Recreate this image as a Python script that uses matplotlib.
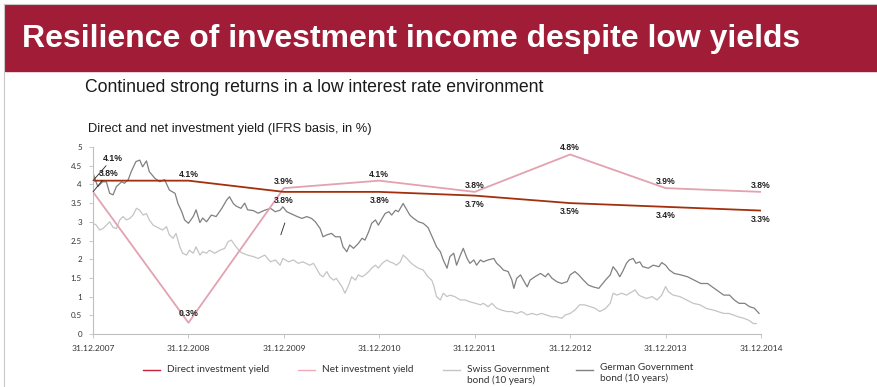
import matplotlib.pyplot as plt
from matplotlib.transforms import offset_copy

years = ['31.12.2007', '31.12.2008', '31.12.2009', '31.12.2010',
         '31.12.2011', '31.12.2012', '31.12.2013', '31.12.2014']
direct_yield = [4.1, 4.1, 3.8, 3.8, 3.7, 3.5, 3.4, 3.3]
net_yield = [3.8, 0.3, 3.9, 4.1, 3.8, 4.8, 3.9, 3.8]

# bond yields, x in years after 31.12.2007
german_t = [0.00, 0.05, 0.10, 0.14, 0.175, 0.21, 0.245, 0.30, 0.33, 0.37, 0.40, 0.45, 0.49, 0.52, 0.56,
            0.59, 0.65, 0.70, 0.75, 0.80, 0.86, 0.89, 0.93, 0.96, 1.00, 1.05, 1.08, 1.12, 1.15, 1.19,
            1.24, 1.29, 1.35, 1.40, 1.43, 1.47, 1.50, 1.55, 1.59, 1.62, 1.68, 1.73,
            1.80, 1.86, 1.91, 1.96, 1.99, 2.03, 2.08, 2.14, 2.19, 2.24, 2.29, 2.33, 2.38, 2.41, 2.45,
            2.50, 2.54, 2.59, 2.62, 2.66, 2.69, 2.73, 2.78, 2.82, 2.85, 2.89, 2.92, 2.96, 2.99, 3.03,
            3.06, 3.10, 3.13, 3.17, 3.20, 3.25, 3.29, 3.32, 3.36, 3.41, 3.46, 3.51,
            3.57, 3.60, 3.64, 3.67, 3.71, 3.74, 3.78, 3.81, 3.85, 3.88, 3.92, 3.95, 3.99, 4.02, 4.06,
            4.09, 4.14, 4.20, 4.23, 4.27, 4.30, 4.35, 4.39, 4.41, 4.44, 4.48, 4.51, 4.55, 4.58, 4.63,
            4.69, 4.74, 4.77, 4.81, 4.86, 4.91, 4.97, 5.00, 5.05, 5.09, 5.14, 5.19, 5.24, 5.30,
            5.37, 5.42, 5.45, 5.49, 5.52, 5.55, 5.59, 5.62, 5.66, 5.69, 5.73, 5.76, 5.82, 5.87, 5.93,
            5.96, 6.00, 6.04, 6.09, 6.16, 6.23, 6.30, 6.37, 6.44, 6.51, 6.56, 6.61, 6.67, 6.72, 6.77,
            6.83, 6.88, 6.93, 6.98]
german_yield = [4.30, 3.94, 4.07, 4.07, 3.76, 3.72, 3.94, 4.07, 4.03, 4.13, 4.34, 4.61, 4.65, 4.47, 4.63,
                4.34, 4.16, 4.07, 4.13, 3.85, 3.76, 3.49, 3.27, 3.05, 2.96, 3.14, 3.32, 2.98, 3.10, 3.00,
                3.18, 3.14, 3.36, 3.58, 3.67, 3.49, 3.42, 3.36, 3.50, 3.32, 3.30, 3.23,
                3.31, 3.36, 3.27, 3.31, 3.40, 3.27, 3.21, 3.14, 3.09, 3.14, 3.09, 3.00, 2.82, 2.60, 2.65,
                2.69, 2.60, 2.60, 2.33, 2.20, 2.38, 2.29, 2.42, 2.56, 2.51, 2.74, 2.96, 3.05, 2.91, 3.09,
                3.22, 3.27, 3.18, 3.31, 3.27, 3.49, 3.31, 3.18, 3.09, 3.00, 2.96, 2.85,
                2.51, 2.33, 2.20, 1.98, 1.76, 2.07, 2.16, 1.84, 2.11, 2.29, 2.02, 1.89, 1.98, 1.84, 1.98,
                1.93, 1.98, 2.02, 1.89, 1.80, 1.71, 1.67, 1.44, 1.22, 1.49, 1.58, 1.44, 1.26, 1.44, 1.53,
                1.62, 1.53, 1.62, 1.49, 1.40, 1.35, 1.40, 1.58, 1.67, 1.58, 1.44, 1.31, 1.26, 1.22,
                1.44, 1.58, 1.80, 1.67, 1.53, 1.67, 1.89, 1.98, 2.02, 1.89, 1.93, 1.80, 1.76, 1.84, 1.80,
                1.91, 1.84, 1.71, 1.62, 1.58, 1.53, 1.44, 1.35, 1.35, 1.22, 1.13, 1.04, 1.04, 0.91, 0.82,
                0.82, 0.73, 0.69, 0.55]

swiss_t = [0.00, 0.035, 0.07, 0.105, 0.14, 0.175, 0.21, 0.245, 0.28, 0.315, 0.35, 0.385, 0.42, 0.455,
           0.49, 0.525, 0.56, 0.59, 0.63, 0.66, 0.70, 0.73, 0.77, 0.80, 0.84, 0.87, 0.91, 0.94, 0.98,
           1.01, 1.05, 1.08, 1.12, 1.15, 1.19, 1.22, 1.275, 1.33, 1.38, 1.415, 1.45, 1.485, 1.54, 1.57,
           1.62, 1.68, 1.73,
           1.80, 1.86, 1.91, 1.96, 1.99, 2.05, 2.10, 2.15, 2.20, 2.27, 2.31, 2.34, 2.38, 2.41, 2.45,
           2.48, 2.52, 2.55, 2.61, 2.64, 2.68, 2.71, 2.75, 2.78, 2.82, 2.85, 2.89, 2.92, 2.96, 2.99,
           3.03, 3.08, 3.11, 3.15, 3.18, 3.22, 3.25, 3.29, 3.32, 3.36, 3.41, 3.46, 3.51,
           3.55, 3.57, 3.60, 3.64, 3.67, 3.71, 3.74, 3.79, 3.85, 3.90, 3.95, 4.01, 4.06, 4.09, 4.14,
           4.18, 4.23, 4.28, 4.34, 4.39, 4.44, 4.49, 4.55, 4.60, 4.65, 4.70, 4.75, 4.81, 4.86, 4.91,
           4.95, 5.00, 5.05, 5.10, 5.15, 5.21, 5.26, 5.31,
           5.37, 5.42, 5.45, 5.49, 5.54, 5.59, 5.65, 5.68, 5.72, 5.75, 5.80, 5.86, 5.91, 5.96, 6.00,
           6.03, 6.08, 6.15, 6.22, 6.29, 6.36, 6.43, 6.50, 6.55, 6.61, 6.66, 6.71, 6.76, 6.82, 6.87,
           6.92, 6.95]
swiss_yield = [2.96, 2.91, 2.78, 2.82, 2.91, 3.00, 2.85, 2.82, 3.05, 3.14, 3.05, 3.09, 3.18, 3.36,
               3.31, 3.18, 3.22, 3.05, 2.91, 2.87, 2.82, 2.78, 2.87, 2.65, 2.56, 2.69, 2.33, 2.16, 2.11,
               2.24, 2.16, 2.33, 2.11, 2.20, 2.16, 2.24, 2.16, 2.24, 2.29, 2.47, 2.51, 2.38, 2.20, 2.16,
               2.11, 2.07, 2.02,
               2.11, 1.93, 1.98, 1.84, 2.02, 1.93, 1.98, 1.89, 1.93, 1.84, 1.89, 1.76, 1.58, 1.53, 1.67,
               1.53, 1.44, 1.49, 1.26, 1.09, 1.31, 1.53, 1.44, 1.58, 1.53, 1.58, 1.67, 1.76, 1.84, 1.76,
               1.89, 1.98, 1.93, 1.89, 1.84, 1.93, 2.11, 2.02, 1.93, 1.84, 1.76, 1.71, 1.53,
               1.44, 1.30, 1.00, 0.91, 1.09, 1.00, 1.04, 1.00, 0.91, 0.91, 0.86, 0.82, 0.78, 0.82, 0.73,
               0.82, 0.69, 0.64, 0.60, 0.60, 0.55, 0.60, 0.51, 0.55, 0.51, 0.55, 0.51, 0.46, 0.46, 0.42,
               0.51, 0.55, 0.64, 0.78, 0.78, 0.73, 0.69, 0.60,
               0.68, 0.82, 1.09, 1.04, 1.09, 1.04, 1.13, 1.18, 1.04, 1.00, 0.95, 1.00, 0.91, 1.04, 1.27,
               1.13, 1.04, 1.00, 0.91, 0.82, 0.78, 0.68, 0.64, 0.60, 0.55, 0.55, 0.51, 0.46, 0.42, 0.37,
               0.28, 0.28]

RED = '#A11C37'
DIRECT = '#A3300C'
NET = '#E2A2B0'
SWISS = '#C4C4C4'
GERMAN = '#808080'

fig = plt.figure(figsize=(8.77, 3.87), dpi=100)
W, H = 877, 387

# header banner and frame
fig.patches.append(plt.Rectangle((5 / W, 1 - 71 / H), 1, 66 / H, transform=fig.transFigure,
                                 color=RED, zorder=0))
fig.lines.append(plt.Line2D([4 / W, 4 / W], [0, 1 - 4 / H], transform=fig.transFigure,
                            color='#C8C8C8', lw=0.8))
fig.lines.append(plt.Line2D([4 / W, 1], [1 - 4 / H, 1 - 4 / H], transform=fig.transFigure,
                            color='#C8C8C8', lw=0.8))
fig.text(22 / W, 1 - 39 / H, 'Resilience of investment income despite low yields', color='white',
         fontsize=23, fontweight='bold', family='Liberation Sans', va='center')
fig.text(85 / W, 1 - 88 / H, 'Continued strong returns in a low interest rate environment',
         fontsize=12.7, family='Liberation Sans', color='#1a1a1a', va='center')
fig.text(88 / W, 1 - 129 / H, 'Direct and net investment yield (IFRS basis, in %)',
         fontsize=9.3, family='Liberation Sans', color='#1a1a1a', va='center')

ax = fig.add_axes([93 / W, 53 / H, (761 - 93) / W, 187 / H])
x_years = list(range(len(years)))

ax.plot(swiss_t, swiss_yield, color=SWISS, lw=0.9)
ax.plot(german_t, german_yield, color=GERMAN, lw=0.9)
ax.plot(x_years, net_yield, color=NET, lw=1.3)
ax.plot(x_years, direct_yield, color=DIRECT, lw=1.3)

lab = dict(fontsize=6.2, fontweight='bold', family='Liberation Sans', color='#222222',
           ha='center', textcoords='offset points')
for i in range(2, len(years)):
    ax.annotate(f'{net_yield[i]:.1f}%', (x_years[i], net_yield[i]), xytext=(0, 1.5), va='bottom', **lab)
    ax.annotate(f'{direct_yield[i]:.1f}%', (x_years[i], direct_yield[i]), xytext=(0, -3), va='top', **lab)
# first two years are labelled by hand
ax.annotate(f'{direct_yield[1]:.1f}%', (x_years[1], direct_yield[1]), xytext=(0, 1.5), va='bottom', **lab)
ax.annotate(f'{net_yield[1]:.1f}%', (x_years[1], net_yield[1]), xytext=(0, 3.5), va='bottom', **lab)
lead = dict(arrowstyle='-', color='#222222', lw=0.6, shrinkA=0, shrinkB=0)
ax.annotate(f'{direct_yield[0]:.1f}%', (x_years[0], direct_yield[0]), xytext=(14, 16), va='center',
            arrowprops=lead, **lab)
ax.annotate(f'{net_yield[0]:.1f}%', (x_years[0], net_yield[0]), xytext=(11, 13.5), va='center',
            arrowprops=lead, **lab)
# stray leader tick under the 2009 labels
ax.annotate('', (x_years[2], direct_yield[2]),
            xycoords=offset_copy(ax.transData, fig=fig, x=1, y=-31, units='dots'),
            xytext=(-2.9, -8.6), textcoords='offset points', arrowprops=lead, annotation_clip=False)

ax.set_xlim(0, len(years) - 1)
ax.set_ylim(0, 5)
ax.set_xticks(x_years)
ax.set_xticklabels(years, fontsize=6.1, family='Lato', color='#333333')
ax.set_yticks([0, 0.5, 1, 1.5, 2, 2.5, 3, 3.5, 4, 4.5, 5])
ax.set_yticklabels(['0', '0.5', '1', '1.5', '2', '2.5', '3', '3.5', '4', '4.5', '5'],
                   fontsize=5.8, family='Lato', color='#333333')
for s in ['top', 'right']:
    ax.spines[s].set_visible(False)
for s in ['left', 'bottom']:
    ax.spines[s].set_color('#BFBFBF')
    ax.spines[s].set_linewidth(0.8)
ax.tick_params(length=3, width=0.6, color='#BFBFBF', pad=5)
ax.patch.set_alpha(0)

# legend drawn in figure pixels
legend = [('#C8213B', 143, 'Direct investment yield', 370),
          ('#F0AAB8', 298, 'Net investment yield', 370),
          (SWISS, 443, 'Swiss Government\nbond (10 years)', 375),
          (GERMAN, 576, 'German Government\nbond (10 years)', 373)]
for color, x0, text, ty in legend:
    fig.lines.append(plt.Line2D([x0 / W, (x0 + 17) / W], [1 - 370 / H] * 2, transform=fig.transFigure,
                                color=color, lw=1.0))
    fig.text((x0 + 24) / W, 1 - ty / H, text, fontsize=7.2, family='Lato', color='#333333',
             va='center', linespacing=1.2)

fig.savefig('out.png', dpi=100)
